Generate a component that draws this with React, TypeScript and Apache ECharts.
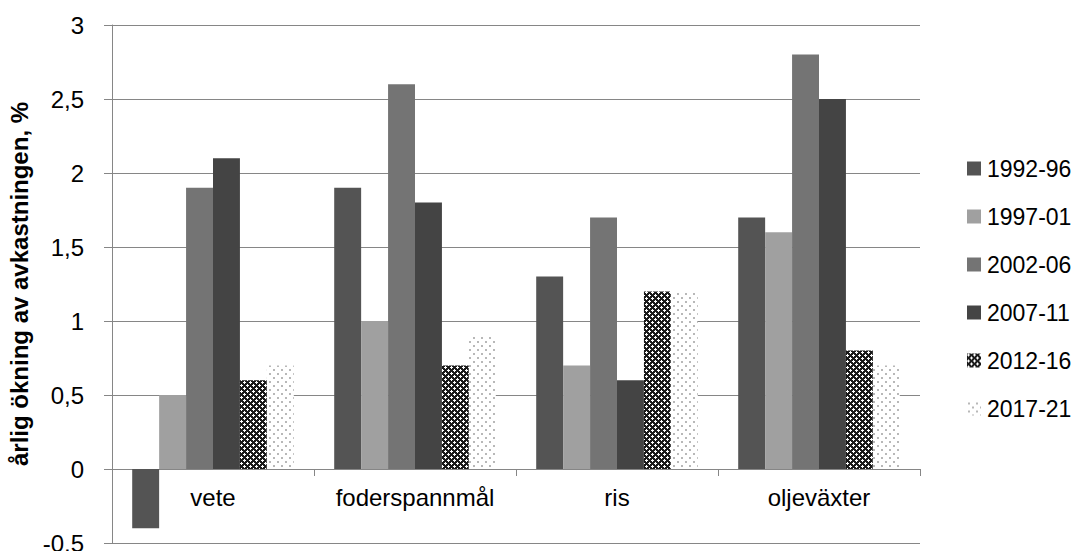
import React, { useEffect, useRef } from "react";
import * as echarts from "echarts";

const categories = ["vete", "foderspannmål", "ris", "oljeväxter"];
const seriesNames = ["1992-96", "1997-01", "2002-06", "2007-11", "2012-16", "2017-21"];
const s1992 = [-0.4, 1.9, 1.3, 1.7];
const s1997 = [0.5, 1.0, 0.7, 1.6];
const s2002 = [1.9, 2.6, 1.7, 2.8];
const s2007 = [2.1, 1.8, 0.6, 2.5];
const s2012 = [0.6, 0.7, 1.2, 0.8];
const s2017 = [0.7, 0.9, 1.2, 0.7];
const yTicks = { min: -0.5, max: 3, interval: 0.5 };
const yTitle = "årlig ökning av avkastningen, %";

function crossPattern(): HTMLCanvasElement {
  const c = document.createElement("canvas");
  c.width = 6;
  c.height = 6;
  const ctx = c.getContext("2d")!;
  ctx.fillStyle = "#1a1a1a";
  ctx.fillRect(0, 0, 6, 6);
  ctx.fillStyle = "#ffffff";
  const plus = (cx: number, cy: number) => {
    const pts = [
      [cx, cy - 1],
      [cx - 1, cy],
      [cx, cy],
      [cx + 1, cy],
      [cx, cy + 1],
    ];
    pts.forEach(([x, y]) => ctx.fillRect((x + 6) % 6, (y + 6) % 6, 1, 1));
  };
  plus(1, 1);
  plus(4, 4);
  return c;
}

function dotPattern(): HTMLCanvasElement {
  const c = document.createElement("canvas");
  c.width = 8;
  c.height = 8;
  const ctx = c.getContext("2d")!;
  ctx.fillStyle = "#ffffff";
  ctx.fillRect(0, 0, 8, 8);
  ctx.fillStyle = "#b8b8b8";
  ctx.fillRect(1, 1, 2, 2);
  ctx.fillRect(5, 5, 2, 2);
  return c;
}

const FONT = "Liberation Sans";
const GRAY = "#868686";
const GRID_TOP = 25;
const GRID_BOTTOM = 8;
const CHART_H = 551;

export default function App() {
  const ref = useRef<HTMLDivElement>(null);
  useEffect(() => {
    if (!ref.current) return;
    const chart = echarts.init(ref.current, null, { renderer: "svg" });
    const colors: any[] = [
      "#545454",
      "#a0a0a0",
      "#747474",
      "#444444",
      { image: crossPattern(), repeat: "repeat" },
      { image: dotPattern(), repeat: "repeat" },
    ];
    const data = [s1992, s1997, s2002, s2007, s2012, s2017];
    const plotH = CHART_H - GRID_TOP - GRID_BOTTOM;
    const zeroOffset = ((0 - yTicks.min) / (yTicks.max - yTicks.min)) * plotH;
    chart.setOption({
      animation: false,
      backgroundColor: "#ffffff",
      textStyle: { fontFamily: FONT },
      grid: {
        left: 112,
        right: 153,
        top: GRID_TOP,
        bottom: GRID_BOTTOM,
        containLabel: false,
        outerBoundsMode: "none",
      },
      legend: {
        orient: "vertical",
        left: 962,
        top: 152,
        itemWidth: 14,
        itemHeight: 14,
        itemGap: 25,
        icon: "rect",
        textStyle: { fontFamily: FONT, fontSize: 23, color: "#000", padding: [0, 0, 0, 1] },
        data: seriesNames,
      },
      xAxis: {
        type: "category",
        data: categories,
        offset: -zeroOffset,
        axisLine: { onZero: false, lineStyle: { color: GRAY, width: 1 } },
        axisTick: { show: true, length: 7, interval: 0, lineStyle: { color: GRAY } },
        axisLabel: { fontFamily: FONT, fontSize: 24, color: "#000", margin: 16, interval: 0 },
        splitLine: { show: false },
      },
      yAxis: {
        type: "value",
        min: yTicks.min,
        max: yTicks.max,
        interval: yTicks.interval,
        name: yTitle,
        nameLocation: "middle",
        nameRotate: 90,
        nameGap: 78,
        nameTextStyle: { fontFamily: FONT, fontSize: 24, fontWeight: "bold", color: "#000" },
        axisLine: { show: true, lineStyle: { color: GRAY } },
        axisTick: { show: true, length: 8, lineStyle: { color: GRAY } },
        axisLabel: {
          fontFamily: FONT,
          fontSize: 24,
          color: "#000",
          margin: 28,
          formatter: (v: number) => String(v).replace(".", ","),
        },
        splitLine: { show: true, lineStyle: { color: GRAY, width: 1 } },
      },
      series: seriesNames.map((name, i) => ({
        name,
        type: "bar",
        data: data[i],
        barGap: "0%",
        barCategoryGap: "20%",
        itemStyle: { color: colors[i] },
        emphasis: { disabled: true },
      })),
    });
    return () => chart.dispose();
  }, []);
  return <div ref={ref} style={{ width: 1073, height: 551, position: "absolute", left: 0, top: 0 }} />;
}
